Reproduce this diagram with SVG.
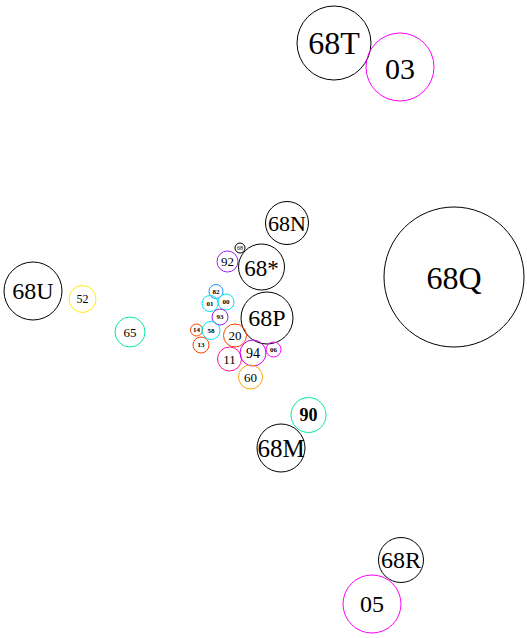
<svg xmlns="http://www.w3.org/2000/svg" width="527" height="638" viewBox="0 0 527 638">
<style>
circle{fill:none;stroke-width:1}
text{font-family:"Liberation Serif","Times New Roman",serif;fill:#000;text-anchor:middle;dominant-baseline:central}
.s{font-size:7px;font-weight:bold}
.k{stroke:#000}
.m{stroke:#ff00ff}
.y{stroke:#ffee00}
.g{stroke:#00e8a8}
.p{stroke:#a020f0}
.b{stroke:#1e90ff}
.c{stroke:#00e5ee}
.r{stroke:#ff4500}
.pk{stroke:#ff1493}
.v{stroke:#d000f0}
.o{stroke:#ffa500}
</style>
<rect width="527" height="638" fill="#fff"/>
<g id="connectors"></g>
<g id="n68T"><circle class="k" cx="334" cy="43" r="37"/><text x="334" y="43" font-size="32">68T</text></g>
<g id="n03"><circle class="m" cx="400" cy="67" r="34"/><text x="400" y="68" font-size="30">03</text></g>
<g id="n68Q"><circle class="k" cx="454" cy="277" r="70"/><text x="454" y="278" font-size="32">68Q</text></g>
<g id="n68U"><circle class="k" cx="33" cy="291" r="29"/><text x="33" y="291" font-size="24">68U</text></g>
<g id="n52"><circle class="y" cx="82.5" cy="299" r="13.5"/><text x="82.5" y="299" font-size="12">52</text></g>
<g id="n65"><circle class="g" cx="130" cy="332" r="15"/><text x="130" y="332" font-size="13">65</text></g>
<g id="n68N"><circle class="k" cx="287" cy="223" r="21.5"/><text x="287" y="223" font-size="22">68N</text></g>
<g id="n68M"><circle class="k" cx="281" cy="448" r="24"/><text x="281" y="448" font-size="25">68M</text></g>
<g id="n90"><circle class="g" cx="308.5" cy="415" r="17.5"/><text x="308.5" y="415" font-size="18" font-weight="bold">90</text></g>
<g id="n68R"><circle class="k" cx="401" cy="560" r="22.5"/><text x="401" y="560" font-size="24">68R</text></g>
<g id="n05"><circle class="m" cx="372" cy="604" r="29"/><text x="372" y="604" font-size="24">05</text></g>
<g id="n68s"><circle class="k" cx="240" cy="248" r="5"/><text x="240" y="248" font-size="6">68</text></g>
<g id="n92"><circle class="p" cx="227.5" cy="261.5" r="10.5"/><text x="227.5" y="261.5" font-size="13">92</text></g>
<g id="n68star"><circle class="k" cx="261.5" cy="267" r="23"/><text x="261.5" y="268" font-size="23">68*</text></g>
<g id="n68P"><circle class="k" cx="267" cy="318" r="26"/><text x="267" y="318" font-size="24">68P</text></g>
<g id="n82"><circle class="b" cx="216" cy="291.5" r="7"/><text class="s" x="216" y="291.5">82</text></g>
<g id="n01"><circle class="c" cx="210" cy="303.5" r="8"/><text class="s" x="210" y="303.5">01</text></g>
<g id="n00"><circle class="c" cx="226" cy="302" r="8"/><text class="s" x="226" y="302">00</text></g>
<g id="n93"><circle class="p" cx="220" cy="317" r="8"/><text class="s" x="220" y="317">93</text></g>
<g id="n14"><circle class="r" cx="196.5" cy="330" r="6"/><text class="s" x="196.5" y="330">14</text></g>
<g id="n58"><circle class="c" cx="211" cy="330.5" r="9"/><text class="s" x="211" y="330.5">58</text></g>
<g id="n13"><circle class="r" cx="201" cy="345" r="8"/><text class="s" x="201" y="345">13</text></g>
<g id="n20"><circle class="r" cx="235" cy="335.5" r="11.5"/><text x="235" y="335.5" font-size="13">20</text></g>
<g id="n11"><circle class="pk" cx="229.5" cy="359" r="12"/><text x="229.5" y="359" font-size="13">11</text></g>
<g id="n94"><circle class="v" cx="253" cy="353" r="13"/><text x="253" y="353" font-size="14">94</text></g>
<g id="n06"><circle class="m" cx="273.5" cy="349.5" r="7.5"/><text class="s" x="273.5" y="349.5">06</text></g>
<g id="n60"><circle class="o" cx="250.5" cy="377" r="12"/><text x="250.5" y="377" font-size="13">60</text></g>
</svg>
